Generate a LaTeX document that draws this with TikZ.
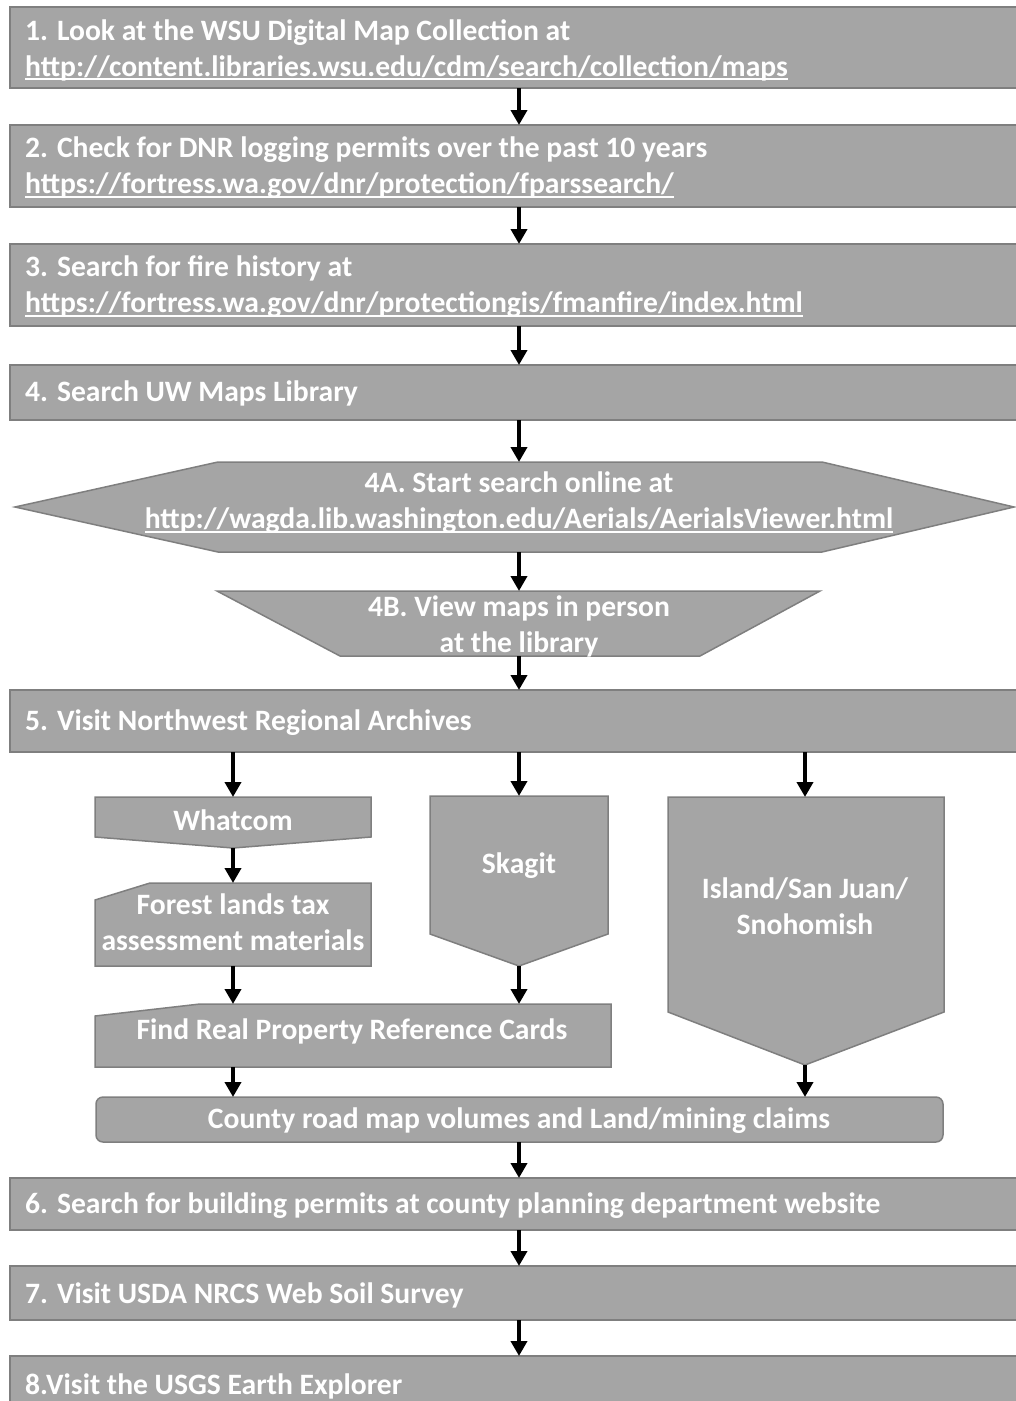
\documentclass[tikz,border=0pt]{standalone}
\usepackage{fontspec}
\setmainfont{Carlito}
\usetikzlibrary{arrows.meta}
\definecolor{boxgray}{HTML}{A5A5A5}
\definecolor{edgegray}{HTML}{7F7F7F}
\newcommand{\myul}[1]{\setbox0\hbox{#1}\rlap{\rule[-4pt]{\wd0}{1.7pt}}\box0}
\begin{document}
\begin{tikzpicture}[x=1pt,y=-1pt,
  shp/.style={fill=boxgray,draw=edgegray,line width=1.5pt},
  arr/.style={line width=4pt,-{Triangle[width=16pt,length=15pt]}},
  txt/.style={text=white,font=\bfseries\fontsize{29.6}{36}\selectfont,inner sep=0pt},
  lt/.style={txt,anchor=west,align=left},
  ct/.style={txt,anchor=center,align=center}]
\useasboundingbox (0,0) rectangle (1016,1401);
\clip (0,0) rectangle (1016,1401);
% shapes
\draw[shp] (10,7) rectangle (1030,88);
\draw[shp] (10,125) rectangle (1030,207);
\draw[shp] (10,244) rectangle (1030,326);
\draw[shp] (10,365) rectangle (1030,420);
\draw[shp] (15,507) -- (218,462) -- (822,462) -- (1014,507) -- (822,552) -- (218,552) -- cycle;
\draw[shp] (217,591) -- (820,591) -- (700,656) -- (340,656) -- cycle;
\draw[shp] (10,690) rectangle (1030,752);
\draw[shp] (95,797) -- (371,797) -- (371,837) -- (233,848) -- (95,837) -- cycle;
\draw[shp] (95,900) -- (150,883) -- (371,883) -- (371,966) -- (95,966) -- cycle;
\draw[shp] (430,796) -- (608,796) -- (608,934) -- (519,966) -- (430,934) -- cycle;
\draw[shp] (668,797) -- (944,797) -- (944,1012) -- (805,1065) -- (668,1012) -- cycle;
\draw[shp] (95,1016) -- (200,1004) -- (611,1004) -- (611,1067) -- (95,1067) -- cycle;
\draw[shp,rounded corners=7pt] (96,1097) rectangle (943,1142);
\draw[shp] (10,1178) rectangle (1030,1230);
\draw[shp] (10,1266) rectangle (1030,1320);
\draw[shp] (10,1356) rectangle (1030,1430);
% texts
\node[lt] (t1) at (25,50) {1. Look at the WSU Digital Map Collection at\\\myul{http://content.libraries.wsu.edu/cdm/search/collection/maps}};
\node[lt] (t2) at (25,168) {2. Check for DNR logging permits over the past 10 years\\\myul{https://fortress.wa.gov/dnr/protection/fparssearch/}};
\node[lt] (t3) at (25,287) {3. Search for fire history at\\\myul{https://fortress.wa.gov/dnr/protectiongis/fmanfire/index.html}};
\node[lt] (t4) at (25,393) {4. Search UW Maps Library};
\node[ct] (t4a) at (519,503) {4A. Start search online at\\\myul{http://wagda.lib.washington.edu/Aerials/AerialsViewer.html}};
\node[ct] (t4b) at (519,626) {4B. View maps in person\\at the library};
\node[lt] (t5) at (25,723) {5. Visit Northwest Regional Archives};
\node[ct] (tw) at (233,820) {Whatcom};
\node[ct] (tf) at (233,922) {Forest lands tax\\assessment materials};
\node[ct] (ts) at (519,866) {Skagit};
\node[ct] (ti) at (805,906) {Island/San Juan/\\Snohomish};
\node[ct] (tr) at (352,1031) {Find Real Property Reference Cards};
\node[ct] (tc) at (519,1121) {County road map volumes and Land/mining claims};
\node[lt] (t6) at (25,1206) {6. Search for building permits at county planning department website};
\node[lt] (t7) at (25,1295) {7. Visit USDA NRCS Web Soil Survey};
\node[lt] (t8) at (25,1386) {8.Visit the USGS Earth Explorer};
% connector end points
\coordinate (b1s) at (519,88);   \coordinate (b2n) at (519,125);
\coordinate (b2s) at (519,207);  \coordinate (b3n) at (519,244);
\coordinate (b3s) at (519,326);  \coordinate (b4n) at (519,365);
\coordinate (b4s) at (519,420);  \coordinate (hxn) at (519,462);
\coordinate (hxs) at (519,552);  \coordinate (tpn) at (519,591);
\coordinate (tps) at (519,656);  \coordinate (b5n) at (519,690);
\coordinate (b5sl) at (233,752); \coordinate (whn) at (233,797);
\coordinate (b5sm) at (519,752); \coordinate (skn) at (519,796);
\coordinate (b5sr) at (805,752); \coordinate (isn) at (805,797);
\coordinate (whs) at (233,848);  \coordinate (fon) at (233,883);
\coordinate (fos) at (233,966);  \coordinate (frnl) at (233,1004);
\coordinate (sks) at (519,966);  \coordinate (frnr) at (519,1004);
\coordinate (frs) at (233,1067); \coordinate (cnl) at (233,1097);
\coordinate (iss) at (805,1065); \coordinate (cnr) at (805,1097);
\coordinate (cs) at (519,1142);  \coordinate (b6n) at (519,1178);
\coordinate (b6s) at (519,1230); \coordinate (b7n) at (519,1266);
\coordinate (b7s) at (519,1320); \coordinate (b8n) at (519,1356);
% connectors
\draw[arr] (b1s) -- (b2n);
\draw[arr] (b2s) -- (b3n);
\draw[arr] (b3s) -- (b4n);
\draw[arr] (b4s) -- (hxn);
\draw[arr] (hxs) -- (tpn);
\draw[arr] (tps) -- (b5n);
\draw[arr] (b5sl) -- (whn);
\draw[arr] (b5sm) -- (skn);
\draw[arr] (b5sr) -- (isn);
\draw[arr] (whs) -- (fon);
\draw[arr] (fos) -- (frnl);
\draw[arr] (sks) -- (frnr);
\draw[arr] (frs) -- (cnl);
\draw[arr] (iss) -- (cnr);
\draw[arr] (cs) -- (b6n);
\draw[arr] (b6s) -- (b7n);
\draw[arr] (b7s) -- (b8n);
\end{tikzpicture}
\end{document}
